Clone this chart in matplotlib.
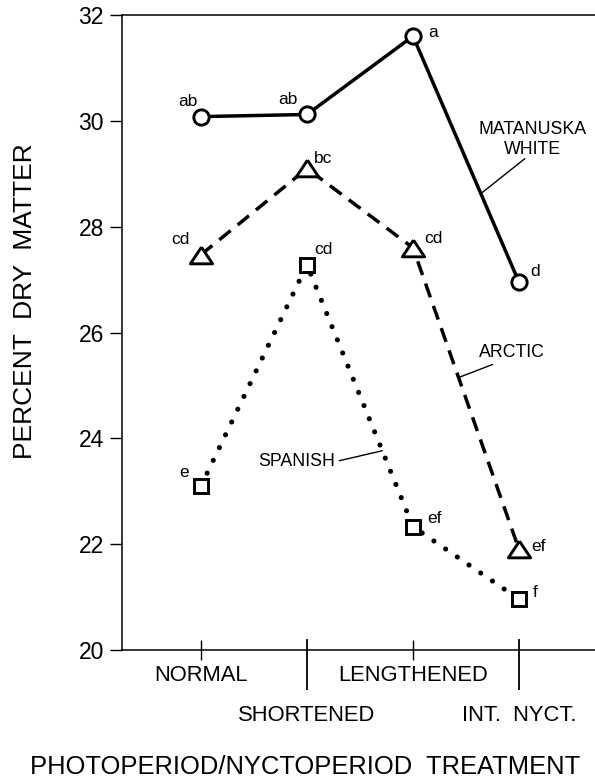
import matplotlib
matplotlib.use("Agg")
import matplotlib.pyplot as plt
import numpy as np

plt.rcParams['font.family'] = ['Liberation Sans', 'DejaVu Sans']

# ---------------- data ----------------
treatments = ["NORMAL", "SHORTENED", "LENGTHENED", "INT.  NYCT."]
matanuska = [30.08, 30.12, 31.60, 26.95]
arctic = [27.47, 29.10, 27.60, 21.90]
spanish = [23.10, 27.28, 22.33, 20.96]
matanuska_letters = ["ab", "ab", "a", "d"]
arctic_letters = ["cd", "bc", "cd", "ef"]
spanish_letters = ["e", "cd", "ef", "f"]
yticks = [20, 22, 24, 26, 28, 30, 32]
ylabel = "PERCENT  DRY  MATTER"
xlabel = "PHOTOPERIOD/NYCTOPERIOD  TREATMENT"

# ---------------- layout ----------------
W, H = 595, 782
fig = plt.figure(figsize=(W / 100, H / 100), dpi=100)
ax_left, ax_right = 122, 700
ax = fig.add_axes([ax_left / W, 1 - 650 / H, (ax_right - ax_left) / W, 635 / H])
x = np.arange(len(treatments))
px_per_unit = 106.0
ax.set_xlim(-(201 - ax_left) / px_per_unit, (ax_right - 201) / px_per_unit)
ax.set_ylim(20, 32)

tri = [(0, 0.75), (-1, -0.75), (1, -0.75), (0, 0.75)]

ax.plot(x, matanuska, color='black', lw=2.5, marker='o', ms=11, mew=2.1,
        mfc='white', mec='black', zorder=3, solid_capstyle='butt')
ax.plot(x, arctic, color='black', lw=2.5, linestyle=(0, (4.2, 2.6)),
        marker=tri, ms=16, mew=2.1, mfc='white', mec='black', zorder=3)
ax.plot(x, spanish, color='black', lw=3.7, linestyle=(0, (0.01, 2.75)),
        dash_capstyle='round', marker='s', ms=10.5, mew=2.1, mfc='white',
        mec='black', zorder=3)

# significance letters
m_off = [(-9.4, 10.8), (-13.7, 10.8), (14.4, 2.9), (11.5, 7.9)]
a_off = [(-15.1, 10.8), (11.5, 7.2), (14.4, 6.5), (13.7, 2.2)]
s_off = [(-12.2, 9.4), (11.5, 10.8), (15.8, 5.8), (11.5, 5.0)]
for ys, letters, offs in [(matanuska, matanuska_letters, m_off),
                          (arctic, arctic_letters, a_off),
                          (spanish, spanish_letters, s_off)]:
    for xi, yi, lab, off in zip(x, ys, letters, offs):
        ax.annotate(lab, (xi, yi), xytext=off, textcoords='offset points',
                    ha='center', va='center', fontsize=12.5, zorder=5)

# series labels with leader lines
def along(ys, i, t):
    return (x[i] + t * (x[i + 1] - x[i]), ys[i] + t * (ys[i + 1] - ys[i]))

for ys, i, t, name, lead, txt in [
        (matanuska, 2, 0.64, "MATANUSKA\nWHITE", (31.7, 25.2), (37.4, 39.0)),
        (arctic, 2, 0.43, "ARCTIC", (24.5, 9.4), (38.2, 18.0)),
        (spanish, 1, 0.71, "SPANISH", (-31.0, -7.2), (-62.0, -7.9))]:
    pt = along(ys, i, t)
    ax.annotate("", pt, xytext=lead, textcoords='offset points',
                arrowprops=dict(arrowstyle='-', lw=1.0, color='black',
                                shrinkA=0, shrinkB=0))
    ax.annotate(name, pt, xytext=txt, textcoords='offset points',
                ha='center', va='center', fontsize=12.8, linespacing=1.2)

# axes styling
for s in ['top', 'bottom', 'left']:
    ax.spines[s].set_linewidth(1.1)
ax.spines['right'].set_visible(False)

ax.set_yticks(yticks)
ax.set_yticklabels([str(v) for v in yticks], fontsize=16.5)
ax.tick_params(axis='y', direction='out', length=8.6, width=1.0, pad=4.5)

ax.set_xticks(x[0::2], labels=treatments[0::2])
ax.set_xticks(x[1::2], labels=treatments[1::2], minor=True)
ax.tick_params(axis='x', which='major', direction='inout', length=14.4,
               width=1.0, pad=3.5, labelsize=15.8)
ax.tick_params(axis='x', which='minor', direction='out', length=28.8,
               width=1.3, pad=11.0, labelsize=15.8)
for xi in x[1::2]:
    ax.plot([xi, xi], [0, 10 / 635], color='black', lw=1.3,
            transform=ax.get_xaxis_transform(), clip_on=False)

fig.text(25 / W, 1 - 301 / H, ylabel, rotation=90, ha='center', va='center',
         fontsize=19)
fig.text(30 / W, 1 - 767 / H, xlabel, ha='left', va='center', fontsize=18.4)

fig.savefig("out.png", dpi=100)
